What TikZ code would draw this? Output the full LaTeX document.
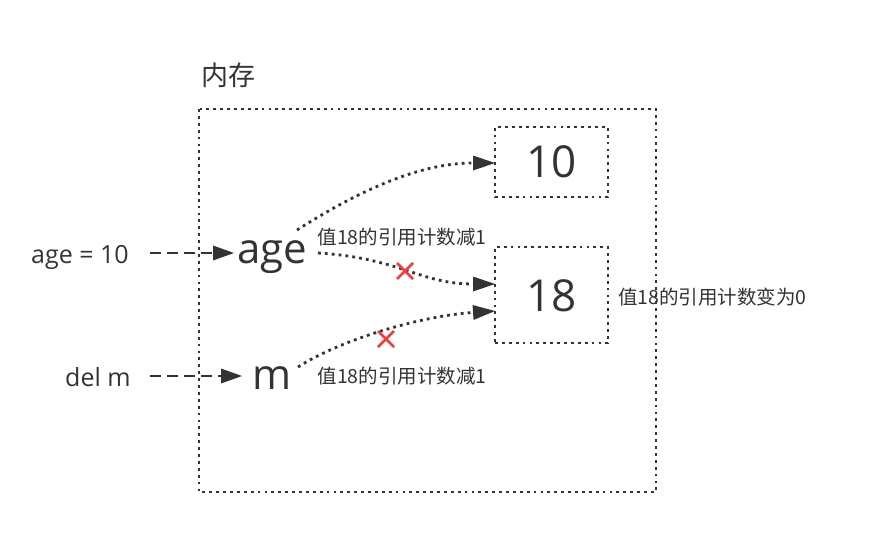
\documentclass[tikz,border=0pt]{standalone}
\usepackage{fontspec}
\setmainfont{Open Sans}
\newfontfamily\cjk{Noto Sans CJK SC}
\usetikzlibrary{arrows.meta}
\definecolor{ink}{HTML}{333333}
\definecolor{xred}{HTML}{F03C3C}
\tikzset{
  dotline/.style={draw=ink, line width=2.8pt, dash pattern=on 2.8pt off 4.1pt},
  dotbox/.style={dotline, minimum width=113pt, minimum height=70pt, inner sep=0pt},
  ptr/.style={dotline, -{Triangle[length=22pt,width=15pt,line width=0pt]}},
  dsh/.style={draw=ink, line width=2.6pt, dash pattern=on 11pt off 6pt, -{Triangle[length=21pt,width=15pt,line width=0pt]}},
  lbl/.style={text=ink, inner sep=0pt, font=\cjk\fontsize{19.5pt}{20pt}\selectfont},
  crossmark/.style={draw=xred, line width=2.6pt},
}
\begin{document}
\begin{tikzpicture}[x=1pt,y=-1pt]
\useasboundingbox (0,0) rectangle (872,533);
% outer memory box
\draw[dotline] (199,109) rectangle (656,492);
\node[text=ink, inner sep=0pt, font=\cjk\fontsize{27pt}{28pt}\selectfont] (mem) at (228,75) {内存};
% value boxes
\node[dotbox] (b10) at (551.5,162) {};
\node[text=ink, inner sep=0pt, font=\fontsize{44pt}{44pt}\selectfont] (t10) at (551.5,162) {10};
\node[dotbox, minimum height=96pt] (b18) at (551.5,295) {};
\node[text=ink, inner sep=0pt, font=\fontsize{44pt}{44pt}\selectfont] (t18) at (551.5,296) {18};
% names
\node[text=ink, inner sep=0pt, anchor=base, font=\fontsize{42pt}{42pt}\selectfont] (age) at (272,263) {age};
\node[text=ink, inner sep=0pt, anchor=base, font=\fontsize{42pt}{42pt}\selectfont] (m) at (272,389) {m};
% statements
\node[text=ink, inner sep=0pt, anchor=base west, font=\fontsize{25pt}{25pt}\selectfont] (s1) at (31,263) {age = 10};
\node[text=ink, inner sep=0pt, anchor=base west, font=\fontsize{25pt}{25pt}\selectfont] (s2) at (65,386) {del m};
\coordinate (a1s) at (150,253);
\coordinate (a1e) at (234,253);
\coordinate (a2s) at (150,376);
\coordinate (a2e) at (242,376);
\draw[dsh] (a1s) -- (a1e);
\draw[dsh] (a2s) -- (a2e);
% pointers
\coordinate (p1s) at (297,230);
\coordinate (p1e) at (495,163);
\coordinate (p2s) at (318,253);
\coordinate (p2e) at (495,284);
\coordinate (p3s) at (298,367);
\coordinate (p3e) at (495,311);
\draw[ptr] (p1s) .. controls (360,190) and (420,163) .. (p1e);
\draw[ptr] (p2s) .. controls (400,258) and (420,284) .. (p2e);
\draw[ptr] (p3s) .. controls (340,340) and (420,316) .. (p3e);
% crosses
\coordinate (x1) at (405,271);
\coordinate (x2) at (386,339);
\draw[crossmark] ([shift={(-8,-8)}]x1) -- ([shift={(8,8)}]x1) ([shift={(-8,8)}]x1) -- ([shift={(8,-8)}]x1);
\draw[crossmark] ([shift={(-8,-8)}]x2) -- ([shift={(8,8)}]x2) ([shift={(-8,8)}]x2) -- ([shift={(8,-8)}]x2);
% labels
\node[lbl] (l1) at (402,237) {值18的引用计数减1};
\node[lbl] (l2) at (402,376) {值18的引用计数减1};
\node[lbl, anchor=west] (l3) at (618,297) {值18的引用计数变为0};
\end{tikzpicture}
\end{document}
